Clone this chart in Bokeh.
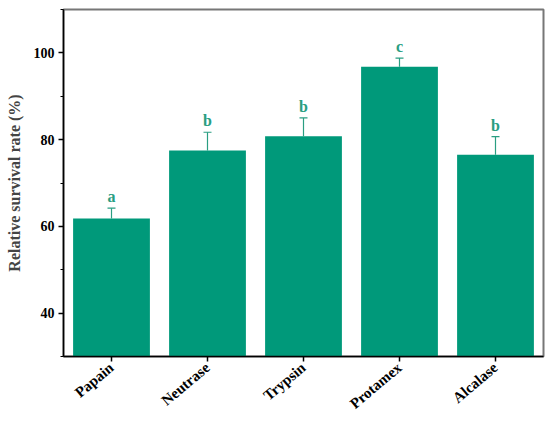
from bokeh.plotting import figure
from bokeh.models import ColumnDataSource, Range1d, SingleIntervalTicker, Whisker, TeeHead
from bokeh.core.properties import value
from bokeh.embed import file_html
from bokeh.resources import INLINE

enzymes = ["Papain", "Neutrase", "Trypsin", "Protamex", "Alcalase"]
survival = [61.8, 77.5, 80.8, 96.8, 76.5]
errors = [2.4, 4.2, 4.2, 2.0, 4.2]
letters = ["a", "b", "b", "c", "b"]

upper = [v + e for v, e in zip(survival, errors)]
src = ColumnDataSource(dict(x=enzymes, top=survival, upper=upper, lab=letters))

BAR = "#00997a"
TEAL = "#2a9e82"
FONT = "Liberation Serif"

p = figure(x_range=enzymes, y_range=Range1d(30, 110), width=545, height=421,
           output_backend="svg", toolbar_location=None,
           min_border_left=63, min_border_right=2, min_border_top=9, min_border_bottom=65)
p.x_range.range_padding = 0

p.vbar(x="x", top="top", bottom=0, width=0.8, source=src, color=BAR, line_color=None)

w = Whisker(source=src, base="x", upper="upper", lower="top",
            upper_head=TeeHead(size=8, line_color=TEAL, line_width=1.2), lower_head=None,
            line_color=TEAL, line_width=1.2)
p.add_layout(w)

p.text(x="x", y="upper", text="lab", source=src, text_align="center", text_baseline="bottom",
       y_offset=-3, text_color=TEAL, text_font=value(FONT), text_font_size="16px",
       text_font_style="bold")

p.xgrid.visible = False
p.ygrid.visible = False
p.outline_line_color = "#777777"
p.outline_line_width = 2

p.yaxis.ticker = SingleIntervalTicker(interval=20, num_minor_ticks=2)
p.yaxis.axis_label = "Relative survival rate (%)"
p.yaxis.axis_label_text_font = FONT
p.yaxis.axis_label_text_font_size = "16px"
p.yaxis.axis_label_text_font_style = "bold"
p.yaxis.axis_label_standoff = 8

for ax in (p.xaxis, p.yaxis):
    ax.axis_line_color = "black"
    ax.axis_line_width = 1.5
    ax.major_tick_line_color = "black"
    ax.major_tick_line_width = 1.5
    ax.major_tick_out = 5
    ax.major_tick_in = 0
    ax.minor_tick_out = 3
    ax.minor_tick_in = 0
    ax.minor_tick_line_color = "black"
    ax.major_label_text_font = FONT
    ax.major_label_text_font_size = "14px"
    ax.major_label_text_font_style = "bold"
    ax.major_label_text_color = "black"
    ax.major_label_standoff = 4

p.xaxis.major_label_orientation = 0.7
p.xaxis.major_label_text_font_size = "15px"
p.xaxis.major_label_standoff = 4

open("out.html", "w").write(file_html(p, INLINE))
